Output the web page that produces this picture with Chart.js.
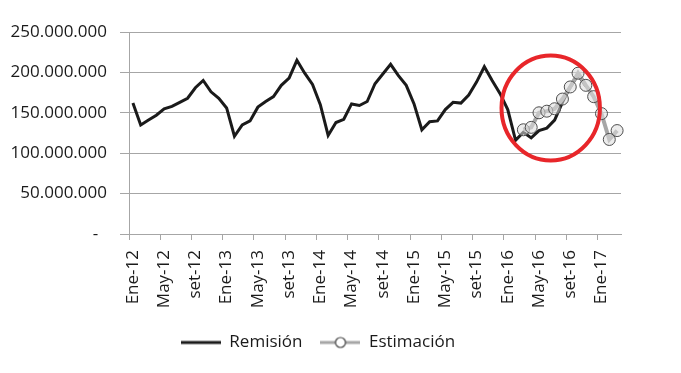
<!DOCTYPE html>
<html>
<head>
<meta charset="utf-8">
<script src="https://cdn.jsdelivr.net/npm/chart.js@4"></script>
<style>
  html, body { margin: 0; padding: 0; background: #fff; }
  #wrap { width: 681px; height: 373px; }
</style>
</head>
<body>
<div id="wrap"><canvas id="chart" width="681" height="373"></canvas></div>
<script>
const months = ['Ene', 'Feb', 'Mar', 'Abr', 'May', 'Jun', 'Jul', 'Ago', 'set', 'Oct', 'Nov', 'Dic'];
const years = ['12', '13', '14', '15', '16', '17'];

// Ene-12 .. Mar-17
const labels = [];
years.forEach((y) => months.forEach((m) => labels.push(`${m}-${y}`)));
labels.length = 63;

// millones
const remision = [
  162, 135, 141, 147, 155, 158, 163, 168, 181, 190, 176, 168,
  156, 121, 135, 140, 157, 164, 170, 184, 193, 215, 199, 185,
  160, 122, 138, 142, 161, 159, 164, 186, 198, 210, 196, 184,
  161, 129, 139, 140, 154, 163, 162, 172, 188, 207, 190, 174,
  154, 116, 126, 119, 128, 131, 141, 163, 182, 197, 183,
];

const estimacion = [
  129, 132, 150, 152, 155, 167, 182, 199, 184, 170, 149, 117, 128,
];
const estimacionStart = 50; // Feb-16

const toFull = (v) => (v == null ? null : v * 1e6);
const remisionData = labels.map((_, i) => toFull(remision[i]));
const estimacionData = labels.map((_, i) =>
  toFull(i >= estimacionStart ? estimacion[i - estimacionStart] : null)
);

// red highlight ring (category index / value)
const ring = { x: 53.5, y: 156e6, rx: 6.3, ry: 65e6 };

const FONT = '"Open Sans", sans-serif';

const legendIcon = (withPoint) => {
  const c = document.createElement('canvas');
  c.width = 40;
  c.height = 14;
  const g = c.getContext('2d');
  g.lineWidth = 3;
  g.strokeStyle = withPoint ? '#a6a6a6' : '#1a1a1a';
  g.beginPath();
  g.moveTo(0, 7);
  g.lineTo(40, 7);
  g.stroke();
  if (withPoint) {
    g.lineWidth = 1.2;
    g.strokeStyle = '#404040';
    g.fillStyle = '#ffffff';
    g.beginPath();
    g.arc(20, 7, 5, 0, Math.PI * 2);
    g.fill();
    g.stroke();
  }
  return c;
};

const ringPlugin = {
  id: 'ring',
  afterLayout(chart) {
    // nudge the legend a little to the right, like the original
    if (chart.legend) chart.legend.left += 10;
  },
  afterDatasetsDraw(chart) {
    const { ctx, scales } = chart;
    const cx = scales.x.getPixelForValue(ring.x);
    const cy = scales.y.getPixelForValue(ring.y);
    const rx = Math.abs(scales.x.getPixelForValue(ring.x + ring.rx) - cx);
    const ry = Math.abs(scales.y.getPixelForValue(ring.y + ring.ry) - cy);
    ctx.save();
    ctx.strokeStyle = '#e8262a';
    ctx.lineWidth = 4;
    ctx.beginPath();
    ctx.ellipse(cx, cy, rx, ry, 0, 0, Math.PI * 2);
    ctx.stroke();
    ctx.restore();
  },
};

const fmt = (v) => (v === 0 ? '-  ' : v.toLocaleString('de-DE'));

new Chart(document.getElementById('chart').getContext('2d'), {
  type: 'line',
  data: {
    labels,
    datasets: [
      {
        label: 'Remisión',
        data: remisionData,
        borderColor: '#1a1a1a',
        borderWidth: 3,
        pointRadius: 0,
        tension: 0,
        order: 1,
        legendIcon: legendIcon(false),
      },
      {
        label: 'Estimación',
        data: estimacionData,
        borderColor: '#a6a6a6',
        borderWidth: 4,
        pointRadius: 6,
        pointBorderWidth: 1,
        pointBorderColor: '#4d4d4d',
        pointBackgroundColor: 'rgba(220,220,220,0.55)',
        tension: 0,
        order: 0,
        legendIcon: legendIcon(true),
      },
    ],
  },
  options: {
    responsive: false,
    animation: false,
    layout: { padding: { left: 5, right: 60, top: 32, bottom: 12 } },
    plugins: {
      tooltip: { enabled: false },
      legend: {
        position: 'bottom',
        labels: {
          color: '#1a1a1a',
          font: { family: FONT, size: 17 },
          usePointStyle: true,
          pointStyleWidth: 40,
          padding: 18,
          generateLabels(chart) {
            return chart.data.datasets.map((ds, i) => ({
              text: ds.label,
              pointStyle: ds.legendIcon,
              fillStyle: 'transparent',
              strokeStyle: 'transparent',
              lineWidth: 0,
              fontColor: '#1a1a1a',
              datasetIndex: i,
            }));
          },
        },
      },
    },
    scales: {
      x: {
        type: 'category',
        offset: true,
        grid: {
          offset: true,
          drawOnChartArea: false,
          tickLength: 6,
          tickColor: (c) => (c.index % 4 === 0 ? '#a6a6a6' : 'transparent'),
        },
        border: { color: '#a6a6a6' },
        ticks: {
          autoSkip: false,
          maxRotation: 90,
          minRotation: 90,
          padding: 10,
          color: '#1a1a1a',
          font: { family: FONT, size: 17 },
          callback: (v, i) => (i % 4 === 0 ? labels[i] : ''),
        },
        afterFit: (s) => { s.height = 82; },
      },
      y: {
        min: 0,
        max: 250e6,
        ticks: {
          stepSize: 50e6,
          padding: 13,
          color: '#1a1a1a',
          font: { family: FONT, size: 17 },
          callback: (v) => fmt(v),
        },
        grid: { color: '#a6a6a6', tickLength: 9 },
        border: { color: '#a6a6a6' },
        afterFit: (s) => { s.width = 124; },
      },
    },
  },
  plugins: [ringPlugin],
});
</script>
</body>
</html>
